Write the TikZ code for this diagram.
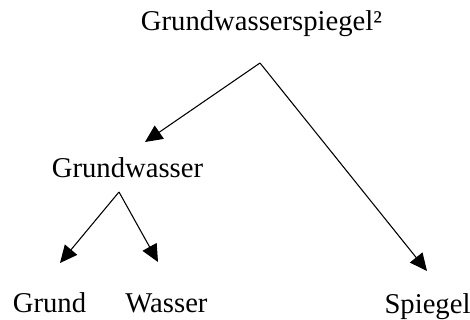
\documentclass[tikz,border=0pt]{standalone}
\usepackage{fontspec}
\setmainfont{Liberation Serif}
\usetikzlibrary{arrows.meta,calc}
\tikzset{
    word/.style =   {anchor=base,
                    inner sep=0pt,
                    text=black,
                    font=\fontsize{21.5}{26}\selectfont},
    split/.style =  {draw=black,
                    line width=0.8pt,
                    -{Triangle[length=13pt,width=12pt]}},
    -}

\begin{document}
\begin{tikzpicture}[x=0.75pt,y=-0.75pt]
                \useasboundingbox (0,0) rectangle (470,320);
                \node[word]       (GWS) at (261.5,31)   {Grundwasserspiegel²};
                \node[word]       (GW)  at (127.5,178)  {Grundwasser};
                \node[word]       (G)   at (49.5,312)   {Grund};
                \node[word]       (W)   at (166.5,312)  {Wasser};
                \node[word]       (S)   at (427.5,313)  {Spiegel};
                % forks and arrow tips
                \coordinate       (GWSfork) at (260,63);
                \coordinate       (GWfork)  at (119,192);
                \coordinate       (GWtip)   at (145,142);
                \coordinate       (Stip)    at (427,271);
                \coordinate       (Gtip)    at (60,263);
                \coordinate       (Wtip)    at (158,262);
                \path           (GWSfork) edge [split]  (GWtip)
                                (GWSfork) edge [split]  (Stip)
                                (GWfork)  edge [split]  (Gtip)
                                (GWfork)  edge [split]  (Wtip);
        \end{tikzpicture}
\end{document}
